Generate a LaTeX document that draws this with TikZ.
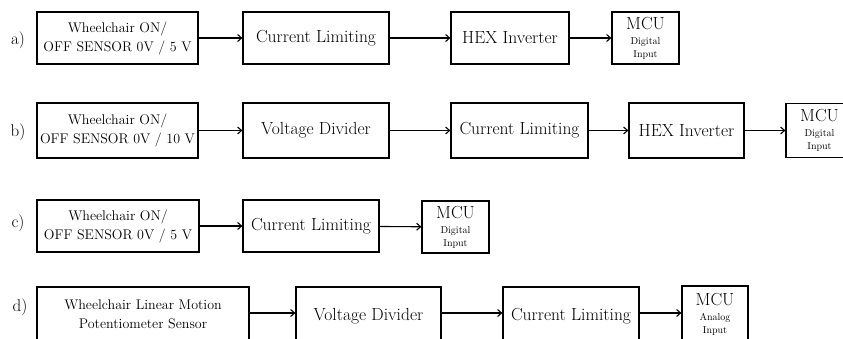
\documentclass[tikz,border=0pt]{standalone}
\usetikzlibrary{arrows.meta}
\newcommand{\smallf}{\fontsize{10}{11}\selectfont}
\newcommand{\mcutext}[1]{MCU\\[-1pt]{\smallf #1}\\[-3pt]{\smallf Input}}
\begin{document}
\begin{tikzpicture}[x=1pt,y=-1pt,
  blk/.style={draw,line width=1.2pt,inner sep=0pt,align=center,minimum height=52pt,
    font=\fontsize{17.5}{20}\selectfont},
  sens/.style={blk,font=\fontsize{14}{19}\selectfont},
  mcu/.style={blk,minimum width=67pt,font=\fontsize{17.5}{16}\selectfont},
  lab/.style={font=\fontsize{17}{18}\selectfont},
  conn/.style={line width=1.1pt,-{Straight Barb[length=4pt,width=7pt]}}]
\useasboundingbox (0,0) rectangle (843,338);
\clip (0,0) rectangle (843,338);
% row a
\node[lab] (la) at (18,40) {a)};
\node[sens,minimum width=161pt] (a1) at (117.5,38) {Wheelchair ON/\\OFF SENSOR 0V / 5 V};
\node[blk,minimum width=146pt] (a2) at (316,38) {Current Limiting};
\node[blk,minimum width=118pt] (a3) at (510,38) {HEX Inverter};
\node[mcu] (a4) at (645.5,38) {\mcutext{Digital}};
\draw[conn] (a1) -- (a2);
\draw[conn] (a2) -- (a3);
\draw[conn] (a3) -- (a4);
% row b
\node[lab] (lb) at (18,132) {b)};
\node[sens,minimum width=161pt,minimum height=55pt] (b1) at (117.5,130.5) {Wheelchair ON/\\OFF SENSOR 0V / 10 V};
\node[blk,minimum width=146pt,minimum height=55pt] (b2) at (316,130.5) {Voltage Divider};
\node[blk,minimum width=137pt,minimum height=55pt] (b3) at (519.5,130.5) {Current Limiting};
\node[blk,minimum width=115pt,minimum height=55pt] (b4) at (686.5,130.5) {HEX Inverter};
\node[mcu,minimum height=54pt] (b5) at (819.5,130.5) {\mcutext{Digital}};
\draw[conn] (b1) -- (b2);
\draw[conn] (b2) -- (b3);
\draw[conn] (b3) -- (b4);
\draw[conn] (b4) -- (b5);
% row c
\node[lab] (lc) at (18,223) {c)};
\node[sens,minimum width=162pt] (c1) at (118,226) {Wheelchair ON/\\OFF SENSOR 0V / 5 V};
\node[blk,minimum width=136pt] (c2) at (311,226) {Current Limiting};
\node[mcu] (c3) at (455.5,227) {\mcutext{Digital}};
\draw[conn] (c1) -- (c2);
\draw[conn] (c2) -- (c3);
% row d
\node[lab] (ld) at (20,307) {d)};
\node[sens,minimum width=212pt,minimum height=60pt,text depth=6pt] (d1) at (143,317) {Wheelchair Linear Motion\\Potentiometer Sensor};
\node[blk,minimum width=145pt,minimum height=60pt,text depth=6pt] (d2) at (368.5,317) {Voltage Divider};
\node[blk,minimum width=136pt,minimum height=60pt,text depth=6pt] (d3) at (571,317) {Current Limiting};
\node[mcu,minimum width=66pt,minimum height=62pt,text depth=8pt] (d4) at (715,317) {\mcutext{Analog}};
\draw[conn] ([yshift=4pt]d1.east) -- ([yshift=4pt]d2.west);
\draw[conn] ([yshift=4pt]d2.east) -- ([yshift=4pt]d3.west);
\draw[conn] ([yshift=4pt]d3.east) -- ([yshift=4pt]d4.west);
\end{tikzpicture}
\end{document}
